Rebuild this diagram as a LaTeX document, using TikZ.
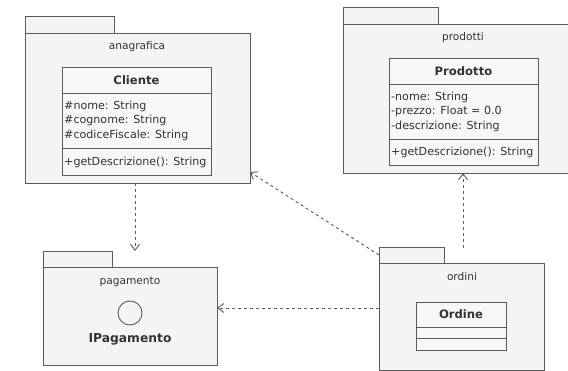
\documentclass[tikz,border=0pt]{standalone}
\usepackage{fontspec}
\setmainfont{DejaVu Sans}
\usetikzlibrary{arrows.meta}
\definecolor{lineC}{HTML}{5C5C5C}
\definecolor{pkgF}{HTML}{F4F4F4}
\definecolor{clsF}{HTML}{F7F7F7}
\definecolor{txtC}{HTML}{333333}
\begin{document}
\begin{tikzpicture}[x=1pt,y=-1pt,
  box/.style={draw=lineC, line width=0.9pt, fill=pkgF, anchor=north west, inner sep=0, outer sep=0},
  cbox/.style={box, fill=clsF},
  lbl/.style={text=txtC, font=\fontsize{10.6}{12}\selectfont, inner sep=0},
  attr/.style={text=txtC, font=\fontsize{11.1}{13}\selectfont, inner sep=0, anchor=west},
  cname/.style={text=txtC, font=\bfseries\fontsize{11.6}{14}\selectfont, inner sep=0},
  dep/.style={draw=lineC, line width=0.9pt, dash pattern=on 3pt off 3pt, -{Straight Barb[length=6pt,width=9pt]}},
  ]
\useasboundingbox (0,0) rectangle (568,371);
\clip (0,0) rectangle (568,371);
\fill[white] (0,0) rectangle (568,371);

% anagrafica
\node[box, minimum width=89, minimum height=17] (anaTab) at (25,16) {};
\node[box, minimum width=225, minimum height=150] (ana) at (25,33) {};
\node[lbl] (anaL) at (137,47) {anagrafica};
\node[cbox, minimum width=149, minimum height=26] (cliN) at (62,67) {};
\node[cbox, minimum width=149, minimum height=55] (cliA) at (62,93) {};
\node[cbox, minimum width=149, minimum height=27] (cliM) at (62,148) {};
\node[cname] (cliT) at (cliN.center) {Cliente};
\node[attr] (cli1) at (64,106) {\#nome: String};
\node[attr] (cli2) at (64,120) {\#cognome: String};
\node[attr] (cli3) at (64,135) {\#codiceFiscale: String};
\node[attr] (cli4) at (64,162) {+getDescrizione(): String};

% prodotti
\node[box, minimum width=95, minimum height=17] (proTab) at (343,7) {};
\node[box, minimum width=235, minimum height=149] (pro) at (343,24) {};
\node[lbl] (proL) at (463,38) {prodotti};
\node[cbox, minimum width=149, minimum height=26] (prdN) at (389,58) {};
\node[cbox, minimum width=149, minimum height=55] (prdA) at (389,84) {};
\node[cbox, minimum width=149, minimum height=26] (prdM) at (389,139) {};
\node[cname] (prdT) at (prdN.center) {Prodotto};
\node[attr] (prd1) at (391,97) {-nome: String};
\node[attr] (prd2) at (391,111) {-prezzo: Float = 0.0};
\node[attr] (prd3) at (391,126) {-descrizione: String};
\node[attr] (prd4) at (391,152) {+getDescrizione(): String};

% pagamento
\node[box, minimum width=69, minimum height=16] (pagTab) at (43,251) {};
\node[box, minimum width=174, minimum height=98] (pag) at (43,267) {};
\node[lbl] (pagL) at (130,282) {pagamento};
\node[draw=lineC, line width=0.9pt, circle, minimum size=24, inner sep=0] (ipC) at (130,313) {};
\node[cname, font=\bfseries\fontsize{12.3}{14}\selectfont] (ipT) at (130,339) {IPagamento};

% ordini
\node[box, minimum width=65, minimum height=16] (ordTab) at (379,247) {};
\node[box, minimum width=165, minimum height=107] (ord) at (379,263) {};
\node[lbl] (ordL) at (462,277) {ordini};
\node[cbox, minimum width=90, minimum height=25] (ordN) at (416,302) {};
\node[cbox, minimum width=90, minimum height=11] (ordA) at (416,327) {};
\node[cbox, minimum width=90, minimum height=12] (ordM) at (416,338) {};
\node[cname] (ordT) at (ordN.center) {Ordine};

% dependencies
\draw[dep] ([xshift=-2.5pt]ana.south) -- ([xshift=-2.5pt]ana.south |- pagTab.north);
\coordinate (o2p) at (463,248);
\draw[dep] (o2p) -- (o2p |- pro.south);
\coordinate (o3) at (379,308);
\draw[dep] (o3) -- (o3 -| pag.east);
\draw[dep] (ordTab.west) -- ([yshift=11pt]ana.south east);
\end{tikzpicture}
\end{document}
